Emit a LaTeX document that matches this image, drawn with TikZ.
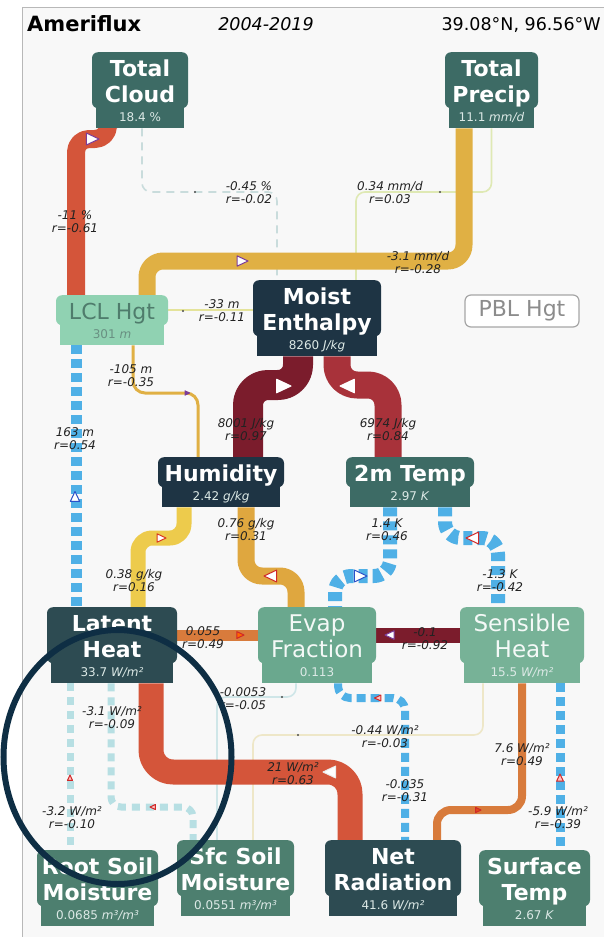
\documentclass[tikz,border=0pt]{standalone}
\usepackage{fontspec}
\setmainfont{DejaVu Sans}
\usetikzlibrary{calc}

% node fills
\definecolor{cTeal}{HTML}{3D6B65}
\definecolor{cNavy}{HTML}{1E3444}
\definecolor{cSlate}{HTML}{2D4B52}
\definecolor{cSage}{HTML}{6AA88E}
\definecolor{cLSage}{HTML}{77B297}
\definecolor{cMoss}{HTML}{4D7F6F}
\definecolor{cMint}{HTML}{90D2B2}
\definecolor{cMintText}{HTML}{4F7C6C}
\definecolor{cVal}{HTML}{DCE9E6}
% connector colours
\definecolor{pRed}{HTML}{D4553A}
\definecolor{pGold}{HTML}{E0B044}
\definecolor{pMaroon}{HTML}{7B1C2C}
\definecolor{pCrimson}{HTML}{A8323A}
\definecolor{pYellow}{HTML}{EDCB4C}
\definecolor{pAmber}{HTML}{DFA73F}
\definecolor{pBlue}{HTML}{4FB0E6}
\definecolor{pOrange}{HTML}{D87B3C}
\definecolor{pIce}{HTML}{B7DFE3}
\definecolor{pGrey}{HTML}{C9DCDC}
\definecolor{pLime}{HTML}{DFE9B4}
\definecolor{pStraw}{HTML}{E4E39A}
\definecolor{pMist}{HTML}{CFE6E8}
\definecolor{pCream}{HTML}{EEE7C8}
\definecolor{mPurple}{HTML}{7B3C9A}
\definecolor{mBlue}{HTML}{2A50C8}
\definecolor{mRed}{HTML}{D02828}
\definecolor{mPink}{HTML}{FFC0C0}
\definecolor{ring}{HTML}{0E2E44}
\definecolor{frameline}{HTML}{B8B8B8}
\definecolor{panel}{HTML}{F8F8F8}
\definecolor{labtext}{HTML}{222222}

% process node: name, centre x, top y, width, class, title line 1, title line 2, value
\newcommand\procnode[8]{%
  \if\relax\detokenize{#7}\relax\def\pnh{30}\else\def\pnh{56}\fi
  \node[tabshape,#5 box,minimum width=#4-8,anchor=north] (#1-tab) at (#2,#3+\pnh-4) {};
  \node[boxshape,#5 box,minimum width=#4,minimum height=\pnh,anchor=north] (#1) at (#2,#3) {};
  \node[ttl,#5 ttl] (#1-t1) at (#2,#3+24) {#6};
  \if\relax\detokenize{#7}\relax\else\node[ttl,#5 ttl] (#1-t2) at (#2,#3+50) {#7};\fi
  \node[val,#5 val] (#1-v) at (#2,#3+\pnh+13) {#8};
}
% direction marker: x, y, angle, size, outline, fill
\newcommand\flowmark[6]{%
  \filldraw[draw=#5,fill=#6,line width=1pt,line join=round,shift={(#1,#2)},rotate=#3]
    (#4,0) -- (-0.8*#4,0.85*#4) -- (-0.8*#4,-0.85*#4) -- cycle;}
\newcommand\flowdot[2]{\fill[black!70] (#1,#2) circle[radius=1.1pt];}

\begin{document}
\begin{tikzpicture}[x=1pt,y=-1pt,
  boxshape/.style={rounded corners=6pt,inner sep=0pt,draw=none},
  tabshape/.style={inner sep=0pt,draw=none,minimum height=24pt},
  ttl/.style={inner sep=0pt,anchor=base},
  val/.style={inner sep=0pt,anchor=base,font=\fontsize{12}{14}\selectfont},
  teal box/.style={fill=cTeal},
  teal ttl/.style={text=white,font=\fontsize{22}{26}\selectfont\bfseries},
  teal val/.style={text=cVal},
  navy box/.style={fill=cNavy},
  navy ttl/.style={text=white,font=\fontsize{22}{26}\selectfont\bfseries},
  navy val/.style={text=cVal},
  slate box/.style={fill=cSlate},
  slate ttl/.style={text=white,font=\fontsize{22}{26}\selectfont\bfseries},
  slate val/.style={text=cVal},
  moss box/.style={fill=cMoss},
  moss ttl/.style={text=white,font=\fontsize{22}{26}\selectfont\bfseries},
  moss val/.style={text=cVal},
  sage box/.style={fill=cSage},
  sage ttl/.style={text=white!92!cSage,font=\fontsize{23}{26}\selectfont},
  sage val/.style={text=cVal},
  lsage box/.style={fill=cLSage},
  lsage ttl/.style={text=white!92!cLSage,font=\fontsize{23}{26}\selectfont},
  lsage val/.style={text=cVal},
  mint box/.style={fill=cMint},
  mint ttl/.style={text=cMintText,font=\fontsize{22}{26}\selectfont},
  mint val/.style={text=cMintText!85!white},
  pipe/.style={line cap=butt,line join=round,rounded corners=#1},
  pipe/.default=14pt,
  bluedash/.style={pipe=#1,draw=pBlue,dash pattern=on 9pt off 5pt},
  bluedash/.default=14pt,
  icedash/.style={pipe=10pt,draw=pIce,line width=7pt,dash pattern=on 8pt off 6pt},
  thin/.style={line width=1.6pt,rounded corners=9pt},
  elab/.style={font=\fontsize{12}{13}\selectfont\itshape,align=center,inner sep=0pt,text=labtext}
]
\useasboundingbox (0,0) rectangle (603,937);
\fill[white] (0,0) rectangle (603,937);
\filldraw[draw=frameline,fill=panel,line width=1pt] (22,7) rectangle (640,960);

% header
\node[anchor=base west,inner sep=0pt,font=\fontsize{21}{24}\selectfont\bfseries] (hdr) at (27,31) {Ameriflux};
\node[anchor=base,inner sep=0pt,font=\fontsize{17.5}{20}\selectfont\itshape] (yrs) at (266,30) {2004-2019};
\node[anchor=base east,inner sep=0pt,font=\fontsize{17.5}{20}\selectfont] (loc) at (601,30) {39.08°N, 96.56°W};

% coordinates used by the nodes (drawn after the connectors)
\begin{scope}[opacity=0]
\procnode{tc}{140}{52}{96}{teal}{Total}{Cloud}{18.4 \%}
\procnode{tp}{491.5}{52}{93}{teal}{Total}{Precip}{11.1 \textit{mm/d}}
\procnode{lcl}{112}{295}{112}{mint}{LCL Hgt}{}{301 \textit{m}}
\procnode{me}{317}{280}{128}{navy}{Moist}{Enthalpy}{8260 \textit{J/kg}}
\procnode{hu}{221}{457}{126}{navy}{Humidity}{}{2.42 \textit{g/kg}}
\procnode{tm}{410}{457}{128}{teal}{2m Temp}{}{2.97 \textit{K}}
\procnode{lh}{112}{607}{130}{slate}{Latent}{Heat}{33.7 \textit{W/m²}}
\procnode{ef}{317}{607}{118}{sage}{Evap}{Fraction}{0.113}
\procnode{sh}{522}{607}{124}{lsage}{Sensible}{Heat}{15.5 \textit{W/m²}}
\procnode{rs}{97.5}{850}{121}{moss}{Root Soil}{Moisture}{0.0685 \textit{m³/m³}}
\procnode{ss}{235.5}{840}{117}{moss}{Sfc Soil}{Moisture}{0.0551 \textit{m³/m³}}
\procnode{nr}{393}{840}{136}{slate}{Net}{Radiation}{41.6 \textit{W/m²}}
\procnode{st}{534.5}{850}{111}{moss}{Surface}{Temp}{2.67 \textit{K}}
\end{scope}

% thin connectors
\draw[thin,draw=pGrey,dash pattern=on 8pt off 6pt] ([xshift=2pt]tc-tab.south) |- (277,192) -- ([xshift=-40pt]me.north);
\draw[thin,draw=pLime] (tp-tab.south) |- (356,192) -- ([xshift=39pt]me.north);
\draw[thin,draw=pStraw] (lcl.east) -- (lcl.east -| me.west);
\draw[thin,draw=pMist] ([xshift=-21pt]ef-tab.south) |- (217,697) -- ([xshift=-18.5pt]ss.north);
\draw[thin,draw=pCream] ([xshift=-39pt]sh-tab.south) |- (253,735) -- ([xshift=17.5pt]ss.north);

% pipes
\draw[pipe=13pt,draw=pRed,line width=18pt] ([xshift=-32pt]tc-tab.south) |- (76,139) -- ([xshift=-36pt]lcl.north);
\draw[pipe=16pt,draw=pGold,line width=17pt] ([xshift=-27.5pt]tp-tab.south) |- (147,261) -- ([xshift=35pt]lcl.north);
\draw[pipe=12pt,draw=pGold,line width=3pt] ([xshift=21pt]lcl-tab.south) |- (198,393) -- ([xshift=-23pt]hu.north);
\draw[bluedash,line width=11pt] ([xshift=-36pt]lcl-tab.south) -- ([xshift=-36pt]lh.north);
\draw[pipe=20pt,draw=pMaroon,line width=30pt] ([xshift=-19pt]me-tab.south) |- (248,385) -- ([xshift=27pt]hu.north);
\draw[pipe=20pt,draw=pCrimson,line width=27pt] ([xshift=20pt]me-tab.south) |- (388,385) -- ([xshift=-22pt]tm.north);
\draw[pipe=14pt,draw=pYellow,line width=15pt] ([xshift=-37pt]hu-tab.south) |- (138,538) -- ([xshift=26pt]lh.north);
\draw[pipe=16pt,draw=pAmber,line width=17pt] ([xshift=25pt]hu-tab.south) |- (296,576) -- ([xshift=-21pt]ef.north);
\draw[bluedash=16pt,line width=14pt] ([xshift=-20pt]tm-tab.south) |- (335,576) -- ([xshift=18pt]ef.north);
\draw[bluedash=16pt,line width=14pt] ([xshift=35pt]tm-tab.south) |- (498,538) -- ([xshift=-24pt]sh.north);
\draw[pipe,draw=pOrange,line width=11pt] (lh.east) -- (ef.west);
\draw[pipe,draw=pMaroon,line width=15pt] (sh.west) -- (ef.east);
\draw[bluedash=12pt,line width=8pt] ([xshift=21pt]ef-tab.south) |- (405,698) -- ([xshift=12pt]nr.north);
\draw[pipe=22pt,draw=pRed,line width=25pt] ([xshift=39pt]lh-tab.south) |- (350,772) -- ([xshift=-43pt]nr.north);
\draw[pipe=14pt,draw=pOrange,line width=8pt] (sh-tab.south) |- (437,810) -- ([xshift=44pt]nr.north);
\draw[bluedash,line width=9pt] ([xshift=38pt]sh-tab.south) -- ([xshift=25.5pt]st.north);
\draw[icedash] ([xshift=-42pt]lh-tab.south) -- ([xshift=-27.5pt]rs.north);
\draw[icedash] ([xshift=-1pt]lh-tab.south) |- (193,807) -- ([xshift=-42.5pt]ss.north);

% direction markers
\flowmark{92}{139}{0}{7}{mPurple}{white}
\flowmark{242}{261}{0}{6}{mPurple}{white}
\flowmark{187}{393}{0}{2.5}{mPurple}{mPurple}
\flowmark{75}{497}{90}{5.5}{mBlue}{white}
\flowmark{283}{386}{0}{8}{white}{white}
\flowmark{348}{386}{180}{8}{white}{white}
\flowmark{161}{538}{0}{5}{mRed!80!orange}{white}
\flowmark{271}{576}{180}{7}{mRed}{white}
\flowmark{360}{576}{0}{7}{mBlue}{white}
\flowmark{473}{538}{180}{7}{mRed}{white}
\flowmark{240}{635}{0}{4}{mRed}{orange!80!red}
\flowmark{390}{635}{180}{5}{mPurple}{white}
\flowmark{378}{698}{180}{3.5}{mRed}{mPink}
\flowmark{330}{772}{180}{7}{white!85!gray}{white}
\flowmark{478}{810}{0}{3}{mRed}{mRed!60!orange}
\flowmark{560}{778}{90}{4}{mRed}{mPink}
\flowmark{70}{778}{90}{3}{mRed}{mPink}
\flowmark{153}{807}{180}{3}{mRed}{mPink}
\flowdot{195}{192}
\flowdot{440}{192}
\flowdot{183}{311}
\flowdot{282}{697}
\flowdot{298}{735}

% process nodes
\procnode{tc}{140}{52}{96}{teal}{Total}{Cloud}{18.4 \%}
\procnode{tp}{491.5}{52}{93}{teal}{Total}{Precip}{11.1 \textit{mm/d}}
\procnode{lcl}{112}{295}{112}{mint}{LCL Hgt}{}{301 \textit{m}}
\procnode{me}{317}{280}{128}{navy}{Moist}{Enthalpy}{8260 \textit{J/kg}}
\procnode{hu}{221}{457}{126}{navy}{Humidity}{}{2.42 \textit{g/kg}}
\procnode{tm}{410}{457}{128}{teal}{2m Temp}{}{2.97 \textit{K}}
\procnode{lh}{112}{607}{130}{slate}{Latent}{Heat}{33.7 \textit{W/m²}}
\procnode{ef}{317}{607}{118}{sage}{Evap}{Fraction}{0.113}
\procnode{sh}{522}{607}{124}{lsage}{Sensible}{Heat}{15.5 \textit{W/m²}}
\procnode{rs}{97.5}{850}{121}{moss}{Root Soil}{Moisture}{0.0685 \textit{m³/m³}}
\procnode{ss}{235.5}{840}{117}{moss}{Sfc Soil}{Moisture}{0.0551 \textit{m³/m³}}
\procnode{nr}{393}{840}{136}{slate}{Net}{Radiation}{41.6 \textit{W/m²}}
\procnode{st}{534.5}{850}{111}{moss}{Surface}{Temp}{2.67 \textit{K}}

\node[draw=gray!70,fill=white,line width=1.2pt,rounded corners=6pt,minimum width=114pt,minimum height=32pt,inner sep=0pt,text=gray!90,font=\fontsize{22}{26}\selectfont] (pbl) at (522,311) {PBL Hgt};

% connector labels
\node[elab] (l1) at (75,222) {-11 \%\\r=-0.61};
\node[elab] (l2) at (249,193) {-0.45 \%\\r=-0.02};
\node[elab] (l3) at (390,193) {0.34 mm/d\\r=0.03};
\node[elab] (l4) at (418,263) {-3.1 mm/d\\r=-0.28};
\node[elab] (l5) at (222,311) {-33 m\\r=-0.11};
\node[elab] (l6) at (131,376) {-105 m\\r=-0.35};
\node[elab] (l7) at (75,439) {163 m\\r=0.54};
\node[elab] (l8) at (246,430) {8001 J/kg\\r=0.97};
\node[elab] (l9) at (388,430) {6974 J/kg\\r=0.84};
\node[elab] (l10) at (134,581) {0.38 g/kg\\r=0.16};
\node[elab] (l11) at (246,530) {0.76 g/kg\\r=0.31};
\node[elab] (l12) at (387,530) {1.4 K\\r=0.46};
\node[elab] (l13) at (500,581) {-1.3 K\\r=-0.42};
\node[elab] (l14) at (203,638) {0.055\\r=0.49};
\node[elab] (l15) at (425,639) {-0.1\\r=-0.92};
\node[elab] (l16) at (243,699) {-0.0053\\r=-0.05};
\node[elab] (l17) at (112,718) {-3.1 W/m²\\r=-0.09};
\node[elab] (l18) at (385,737) {-0.44 W/m²\\r=-0.03};
\node[elab] (l19) at (293,774) {21 W/m²\\r=0.63};
\node[elab] (l20) at (405,791) {-0.035\\r=-0.31};
\node[elab] (l21) at (522,755) {7.6 W/m²\\r=0.49};
\node[elab] (l22) at (72,818) {-3.2 W/m²\\r=-0.10};
\node[elab] (l23) at (558,818) {-5.9 W/m²\\r=-0.39};

% highlight ring
\draw[line width=6pt,draw=ring] (117.5,757) ellipse [x radius=114pt,y radius=127pt];
\end{tikzpicture}
\end{document}
